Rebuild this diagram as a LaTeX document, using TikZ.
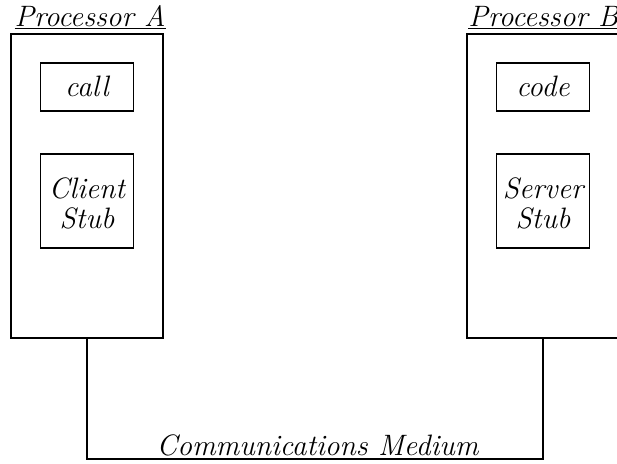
\documentclass[tikz,border=0pt]{standalone}
\tikzset{
  procbox/.style={draw, line width=1.3pt, minimum width=3.8cm, minimum height=7.6cm, inner sep=0pt},
  unitbox/.style={draw, line width=1.3pt, minimum width=2.325cm, inner sep=0pt, align=center},
  caption/.style={inner sep=0pt, anchor=base west}
}
\begin{document}
\begin{tikzpicture}[font=\fontsize{21}{21}\selectfont\itshape]
\path[use as bounding box] (0,0) rectangle (15.425,11.575);
\clip (0,0) rectangle (15.425,11.575);
% the two processors
\node[procbox] (procA) at (2.175,6.925) {};
\node[procbox] (procB) at (13.575,6.925) {};
\node[caption] (labA) at ([xshift=3pt,yshift=5pt]procA.north west) {\underline{Processor A}};
\node[caption] (labB) at ([xshift=1.5pt,yshift=5pt]procB.north west) {\underline{Processor B}};
% boxes inside
\node[unitbox, minimum height=1.2cm] (call) at (2.175,9.41) {call};
\node[unitbox, minimum height=2.35cm, text height=40pt] (cstub) at (2.175,6.56) {Client\\Stub};
\node[unitbox, minimum height=1.2cm] (code) at (13.575,9.41) {code};
\node[unitbox, minimum height=2.35cm, text height=40pt] (sstub) at (13.575,6.56) {Server\\Stub};
% link between them
\coordinate (medium) at (7.875,0.1);
\draw[line width=0.8pt] (procA.south) |- (medium) -| (procB.south);
\node[inner sep=0pt, anchor=base] (mlab) at (7.94,0.2) {Communications Medium};
\end{tikzpicture}
\end{document}
